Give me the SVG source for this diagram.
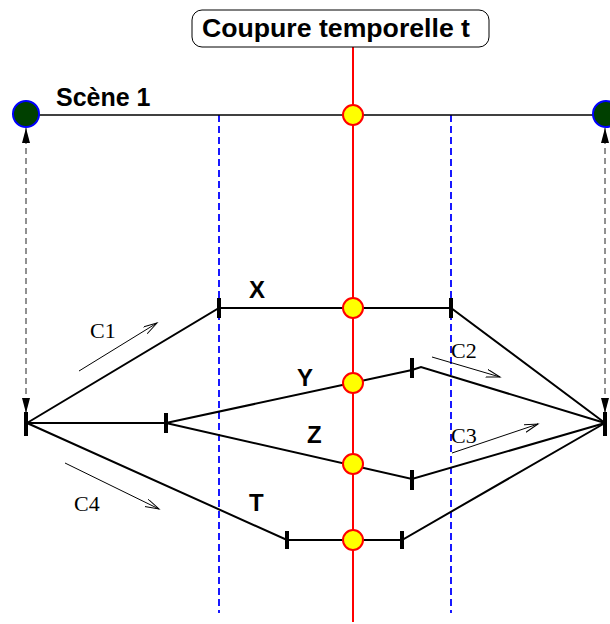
<svg xmlns="http://www.w3.org/2000/svg" width="610" height="624" viewBox="0 0 610 624">
<style>
.lbl{font-family:"Liberation Sans",Arial,sans-serif;font-weight:bold;font-size:24px;fill:#000}
.cl{font-family:"Liberation Serif","Times New Roman",serif;font-size:22px;fill:#000}
.path{fill:none;stroke:#000;stroke-width:2}
.tick{stroke:#000;stroke-width:4}
.blue{stroke:#0000ff;stroke-width:1.8;stroke-dasharray:7,4}
.dash{stroke:#222;stroke-width:1;stroke-dasharray:6,4;marker-start:url(#fa);marker-end:url(#fa)}
.carr{stroke:#000;stroke-width:1;marker-end:url(#oa)}
.yc{fill:#ffff00;stroke:#ff0000;stroke-width:2}
.gc{fill:#004000;stroke:#0000ff;stroke-width:2}
</style>
<defs>
<marker id="fa" markerUnits="userSpaceOnUse" markerWidth="16" markerHeight="10" refX="15" refY="4" orient="auto-start-reverse">
<path d="M0,0 L15,4 L0,8 Z" fill="#000"/>
</marker>
<marker id="oa" markerUnits="userSpaceOnUse" markerWidth="16" markerHeight="10" refX="14" refY="4" orient="auto">
<path d="M0,0 L14,4 L0,8" fill="none" stroke="#000" stroke-width="1"/>
</marker>
</defs>
<rect width="610" height="624" fill="#fff"/>
<g id="guides">
<line class="blue" x1="219" y1="115" x2="219" y2="613"/>
<line class="blue" x1="451" y1="115" x2="451" y2="613"/>
</g>
<g id="connectors">
<line x1="26" y1="115" x2="606" y2="115" stroke="#000" stroke-width="1.5"/>
<line class="dash" x1="26" y1="128" x2="26" y2="413"/>
<line class="dash" x1="605" y1="128" x2="605" y2="413"/>
<polyline class="path" points="27,423 219,308 451,308 605,423"/>
<line class="path" x1="27" y1="423" x2="166" y2="423"/>
<polyline class="path" points="166,423 412,370 421,367 605,423"/>
<polyline class="path" points="166,423 412,479 605,423"/>
<polyline class="path" points="27,423 287,540 402,540 605,423"/>
<line class="carr" x1="79" y1="371" x2="157" y2="323"/>
<line class="carr" x1="432" y1="357" x2="500" y2="377"/>
<line class="carr" x1="452" y1="453" x2="538" y2="424"/>
<line class="carr" x1="65" y1="463" x2="159" y2="509"/>
</g>
<g id="cut">
<line x1="353" y1="47" x2="353" y2="622" stroke="#ff0000" stroke-width="2"/>
<rect x="192" y="10" width="297" height="37" rx="10" fill="#fff" stroke="#000" stroke-width="1"/>
<text x="202" y="37" class="lbl" style="font-size:26px" textLength="268" lengthAdjust="spacingAndGlyphs">Coupure temporelle t</text>
</g>
<g id="scene">
<circle class="gc" cx="26" cy="114" r="13"/>
<circle class="gc" cx="606" cy="114" r="13"/>
<text x="56" y="106" class="lbl" style="font-size:25px">Scène 1</text>
</g>
<g id="ticks">
<line class="tick" x1="26" y1="412" x2="26" y2="436"/>
<line class="tick" x1="605" y1="412" x2="605" y2="436"/>
<line class="tick" x1="219" y1="298" x2="219" y2="318"/>
<line class="tick" x1="451" y1="298" x2="451" y2="318"/>
<line class="tick" x1="166" y1="413" x2="166" y2="433"/>
<line class="tick" x1="412" y1="358" x2="412" y2="378"/>
<line class="tick" x1="412" y1="470" x2="412" y2="490"/>
<line class="tick" x1="287" y1="531" x2="287" y2="549"/>
<line class="tick" x1="402" y1="531" x2="402" y2="549"/>
</g>
<g id="points">
<circle class="yc" cx="353" cy="115" r="10"/>
<circle class="yc" cx="353" cy="308" r="10"/>
<circle class="yc" cx="353" cy="383" r="10"/>
<circle class="yc" cx="353" cy="464" r="10"/>
<circle class="yc" cx="353" cy="540" r="10"/>
</g>
<g id="labels">
<text x="249" y="298" class="lbl">X</text>
<text x="297" y="386" class="lbl">Y</text>
<text x="307" y="443" class="lbl">Z</text>
<text x="249" y="511" class="lbl">T</text>
<text x="90" y="338" class="cl">C1</text>
<text x="451" y="358" class="cl">C2</text>
<text x="451" y="443" class="cl">C3</text>
<text x="74" y="511" class="cl">C4</text>
</g>
</svg>
